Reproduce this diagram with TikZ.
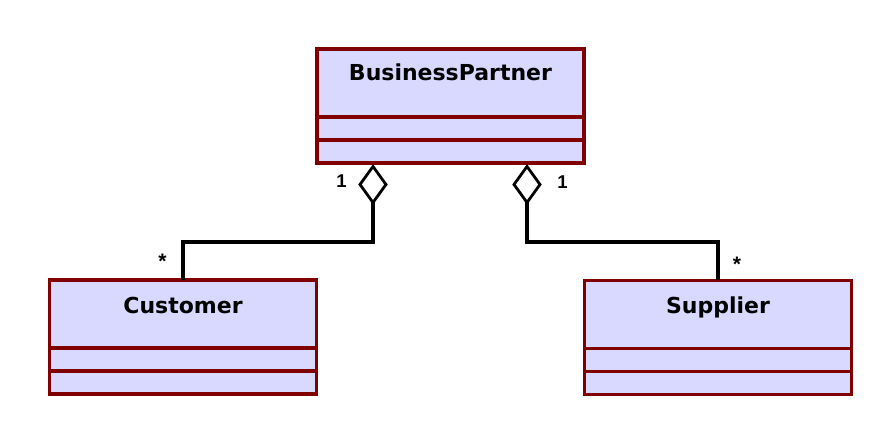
\documentclass[tikz,border=0pt]{standalone}
\usepackage{fontspec}
\setmainfont{Liberation Sans}
\newfontfamily\clsfont{DejaVu Sans}
\usetikzlibrary{shapes.geometric,calc}
\definecolor{umlfill}{RGB}{217,217,255}
\definecolor{umlborder}{RGB}{128,0,0}
\tikzset{
  umlclass/.style={draw=umlborder, fill=umlfill, line width=3.5pt, minimum width=267pt, minimum height=114pt, inner sep=0pt, outer sep=0pt},
  sepline/.style={draw=umlborder, line width=3.5pt},
  clsname/.style={anchor=base, inner sep=0pt, font=\clsfont\bfseries\fontsize{22}{26}\selectfont},
  aggr/.style={diamond, draw=black, fill=white, line width=2.8pt, minimum width=26pt, minimum height=36pt, inner sep=0pt, outer sep=0pt},
  conn/.style={draw=black, line width=3.4pt, line join=miter},
  mult/.style={inner sep=0pt, font=\bfseries\fontsize{18.5}{21}\selectfont},
  multstar/.style={inner sep=0pt, font=\bfseries\fontsize{21}{24}\selectfont}
}
\begin{document}
\begin{tikzpicture}[x=1pt,y=-1pt]
\useasboundingbox (0,0) rectangle (878,430);
% classes
\node[umlclass] (bp) at (450.5,106) {};
\node[umlclass] (cust) at (183,337) {};
\node[umlclass] (supp) at (718,337.5) {};
\foreach \n in {bp,cust,supp}{
  \draw[sepline] ($(\n.north west)+(0,68)$) -- ($(\n.north east)+(0,68)$);
  \draw[sepline] ($(\n.north west)+(0,91)$) -- ($(\n.north east)+(0,91)$);
}
\node[clsname] (bpname) at ($(bp.north)+(0,32)$) {BusinessPartner};
\node[clsname] (custname) at ($(cust.north)+(0,33)$) {Customer};
\node[clsname] (suppname) at ($(supp.north)+(0,33)$) {Supplier};
% aggregation diamonds
\node[aggr] (dl) at (373,184.5) {};
\node[aggr] (dr) at (527,184.5) {};
% connectors
\coordinate (bendl) at (183,242);
\coordinate (bendr) at (718,242);
\draw[conn] (dl.south) |- (bendl) -- (cust.north);
\draw[conn] (dr.south) |- (bendr) -- (supp.north);
% multiplicities
\node[mult] (m1) at (341.5,181) {1};
\node[mult] (m2) at (562.5,182) {1};
\node[multstar] (m3) at (162.5,261) {*};
\node[multstar] (m4) at (737,264) {*};
\end{tikzpicture}
\end{document}
